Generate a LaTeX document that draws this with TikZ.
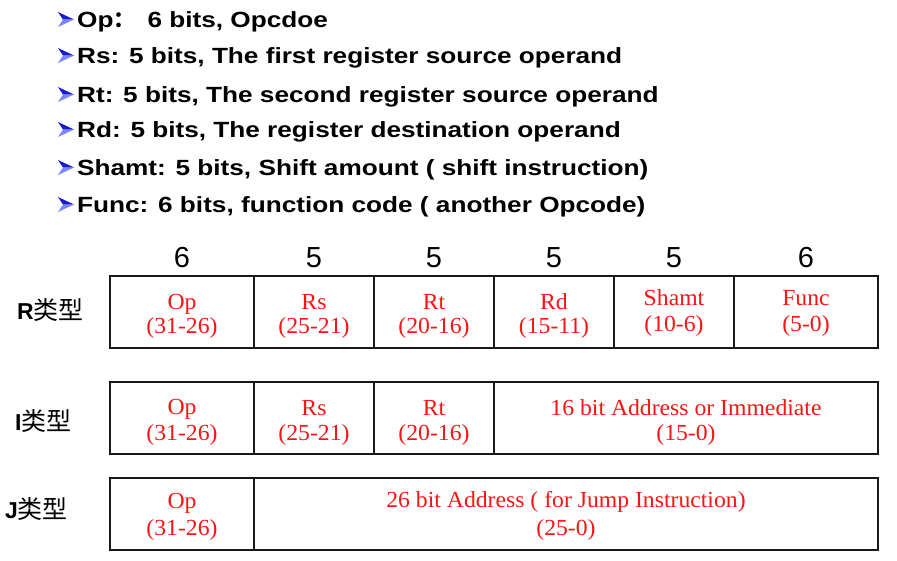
\documentclass[tikz,border=0pt]{standalone}
\usepackage{fontspec}
\setmainfont{Liberation Serif}
\setsansfont{Liberation Sans}
\newfontfamily\cjk{Noto Sans CJK SC}
\newfontfamily\notefont[FakeStretch=1.19]{Liberation Sans}
\newfontfamily\fieldfont[FakeStretch=1.03]{Liberation Serif}
\definecolor{fieldred}{RGB}{250,20,20}
\definecolor{arrowdark}{RGB}{25,25,205}
\definecolor{arrowlight}{RGB}{120,135,255}
\definecolor{frame}{RGB}{25,25,25}

\tikzset{
  note/.style={anchor=base west, inner sep=0pt, font=\notefont\bfseries\fontsize{22}{26}\selectfont},
  bulletarrow/.pic={
    \fill[arrowdark] (0,0) -- (16,7.5) -- (5,7.5) -- cycle;
    \fill[arrowlight] (5,7.5) -- (16,7.5) -- (0,15) -- cycle;
  },
  cell/.style={draw=frame, line width=1.5pt, minimum height=72pt, inner sep=0pt, outer sep=0pt},
  field/.style={anchor=base, inner sep=0pt, text=fieldred, font=\fieldfont\fontsize{23}{27}\selectfont},
  width/.style={anchor=base, inner sep=0pt, font=\sffamily\fontsize{29}{34}\selectfont},
  kind/.style={anchor=base west, inner sep=0pt, font=\fontsize{23}{27}\selectfont},
}
\newcommand{\kindname}[1]{{\sffamily\bfseries #1}{\cjk\fontsize{25}{29}\selectfont 类型}}

\begin{document}
\begin{tikzpicture}[x=1pt, y=-1pt]
\useasboundingbox (0,0) rectangle (897,560);

% field descriptions
\pic at (58,12) {bulletarrow};
\node[note] (n1) at (77,27) {Op{\cjk ：}\hspace{12pt}6 bits, Opcdoe};
\pic at (58,48) {bulletarrow};
\node[note] (n2) at (77,63) {Rs: 5 bits, The first register source operand};
\pic at (58,87) {bulletarrow};
\node[note] (n3) at (77,102) {Rt: 5 bits, The second register source operand};
\pic at (58,122) {bulletarrow};
\node[note] (n4) at (77,137) {Rd: 5 bits, The register destination operand};
\pic at (58,160) {bulletarrow};
\node[note] (n5) at (77,175) {Shamt: 5 bits, Shift amount ( shift instruction)};
\pic at (58,197) {bulletarrow};
\node[note] (n6) at (77,212) {Func: 6 bits, function code ( another Opcode)};

% field widths
\node[width] (w1) at (182,267) {6};
\node[width] (w2) at (314,267) {5};
\node[width] (w3) at (434,267) {5};
\node[width] (w4) at (554,267) {5};
\node[width] (w5) at (674,267) {5};
\node[width] (w6) at (806,267) {6};

% format names
\node[kind] (kr) at (17,319) {\kindname{R}};
\node[kind] (ki) at (15,430) {\kindname{I}};
\node[kind] (kj) at (5,518) {\kindname{J}};

% R format
\node[cell, minimum width=144pt] (r1) at (182,312) {};
\node[cell, minimum width=120pt] (r2) at (314,312) {};
\node[cell, minimum width=120pt] (r3) at (434,312) {};
\node[cell, minimum width=120pt] (r4) at (554,312) {};
\node[cell, minimum width=120pt] (r5) at (674,312) {};
\node[cell, minimum width=144pt] (r6) at (806,312) {};
\node[field] (r1a) at (182,309) {Op};
\node[field] (r1b) at (182,333) {(31-26)};
\node[field] (r2a) at (314,309) {Rs};
\node[field] (r2b) at (314,333) {(25-21)};
\node[field] (r3a) at (434,309) {Rt};
\node[field] (r3b) at (434,333) {(20-16)};
\node[field] (r4a) at (554,309) {Rd};
\node[field] (r4b) at (554,333) {(15-11)};
\node[field] (r5a) at (674,305) {Shamt};
\node[field] (r5b) at (674,331) {(10-6)};
\node[field] (r6a) at (806,305) {Func};
\node[field] (r6b) at (806,331) {(5-0)};

% I format
\node[cell, minimum width=144pt] (i1) at (182,418) {};
\node[cell, minimum width=120pt] (i2) at (314,418) {};
\node[cell, minimum width=120pt] (i3) at (434,418) {};
\node[cell, minimum width=384pt] (i4) at (686,418) {};
\node[field] (i1a) at (182,414) {Op};
\node[field] (i1b) at (182,440) {(31-26)};
\node[field] (i2a) at (314,415) {Rs};
\node[field] (i2b) at (314,440) {(25-21)};
\node[field] (i3a) at (434,415) {Rt};
\node[field] (i3b) at (434,440) {(20-16)};
\node[field] (i4a) at (686,415) {16 bit Address or Immediate};
\node[field] (i4b) at (686,440) {(15-0)};

% J format
\node[cell, minimum width=144pt] (j1) at (182,514) {};
\node[cell, minimum width=624pt] (j2) at (566,514) {};
\node[field] (j1a) at (182,508) {Op};
\node[field] (j1b) at (182,535) {(31-26)};
\node[field] (j2a) at (566,507) {26 bit Address ( for Jump Instruction)};
\node[field] (j2b) at (566,535) {(25-0)};
\end{tikzpicture}
\end{document}
